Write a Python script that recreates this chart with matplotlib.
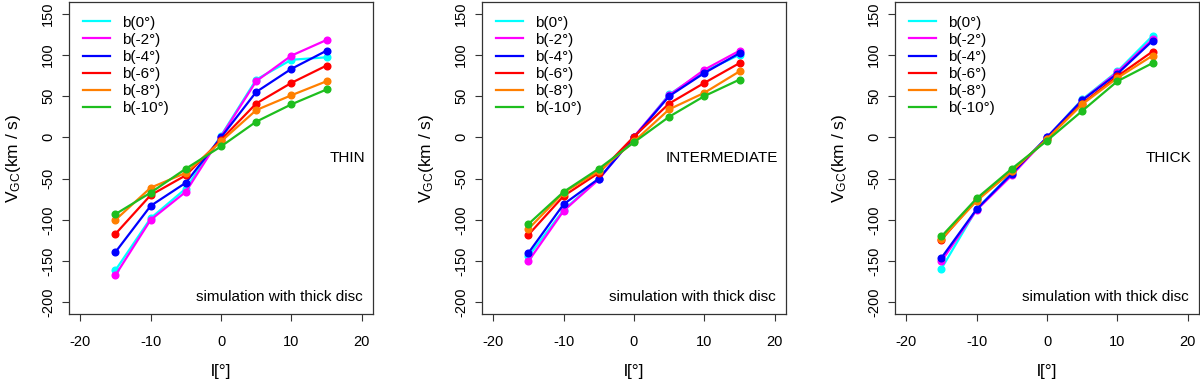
import matplotlib
matplotlib.use("Agg")
import matplotlib.pyplot as plt

plt.rcParams['font.family'] = ['Liberation Sans', 'DejaVu Sans']
plt.rcParams['mathtext.fontset'] = 'custom'
plt.rcParams['mathtext.rm'] = 'Liberation Sans'
plt.rcParams['mathtext.it'] = 'Liberation Sans:italic'
plt.rcParams['axes.unicode_minus'] = False

# longitude l (deg)
l = [-15, -10, -5, 0, 5, 10, 15]
labels = ["b(0°)", "b(-2°)", "b(-4°)", "b(-6°)", "b(-8°)", "b(-10°)"]
colors = ["#00FFFF", "#FF00FF", "#0000FF", "#FF0000", "#FF7F00", "#1EBE1E"]
panel_names = ["THIN", "INTERMEDIATE", "THICK"]

# V_GC (km/s) per latitude, one list per panel
thin = [
    [-161, -98, -62, 2, 70, 94, 97],
    [-167, -100, -66, 1, 68, 99, 118],
    [-139, -83, -55, 0, 55, 83, 105],
    [-117, -70, -46, -3, 41, 66, 87],
    [-100, -61, -43, -5, 33, 51, 68],
    [-93, -67, -38, -11, 19, 40, 58],
]
intermediate = [
    [-144, -88, -50, 0, 52, 80, 100],
    [-150, -89, -51, 1, 51, 82, 105],
    [-140, -81, -50, 0, 50, 78, 102],
    [-118, -71, -43, 1, 41, 66, 90],
    [-111, -67, -41, -5, 34, 54, 80],
    [-105, -66, -38, -6, 25, 50, 70],
]
thick = [
    [-159, -87, -43, 0, 46, 80, 123],
    [-150, -88, -46, 0, 45, 79, 119],
    [-146, -87, -44, 0, 45, 77, 117],
    [-124, -75, -41, -2, 41, 74, 104],
    [-123, -77, -41, -2, 40, 72, 99],
    [-120, -74, -38, -4, 32, 68, 90],
]
panels = [thin, intermediate, thick]

fig = plt.figure(figsize=(12, 3.82), dpi=100)
lefts = [69, 482, 895]

for k in range(3):
    ax = fig.add_axes([lefts[k] / 1200, 68 / 382, 304 / 1200, 312 / 382])
    for i in range(6):
        ax.plot(l, panels[k][i], color=colors[i], lw=1.6, label=labels[i])
        ax.plot(l, panels[k][i], 'o', color=colors[i], ms=4.8)
    ax.set_xlim(-21.6, 21.6)
    ax.set_ylim(-214, 164)
    ax.set_xticks([-20, -10, 0, 10, 20])
    ax.set_yticks([-200, -150, -100, -50, 0, 50, 100, 150])
    ax.tick_params(length=5, width=0.8, color='#333333', labelsize=10.5)
    ax.tick_params(axis='x', pad=10)
    ax.tick_params(axis='y', pad=5)
    for lab in ax.get_yticklabels():
        lab.set_rotation(90)
        lab.set_va('center')
    for s in ax.spines.values():
        s.set_color('#333333')
        s.set_linewidth(0.9)
    ax.set_xlabel("l[°]", fontsize=12.5, labelpad=11)
    ax.set_ylabel(r"V$_{\mathrm{GC}}$(km / s)", fontsize=12.5, labelpad=13)
    ax.text(0.975, 0.5, panel_names[k], transform=ax.transAxes,
            ha='right', va='center', fontsize=11)
    ax.text(0.965, 0.055, "simulation with thick disc", transform=ax.transAxes,
            ha='right', va='center', fontsize=11)
    ax.legend(loc='upper left', frameon=False, fontsize=11,
              handlelength=1.8, handletextpad=0.8, labelspacing=0.2,
              borderaxespad=0.5, borderpad=0.4)

plt.savefig("out.png", dpi=100)
